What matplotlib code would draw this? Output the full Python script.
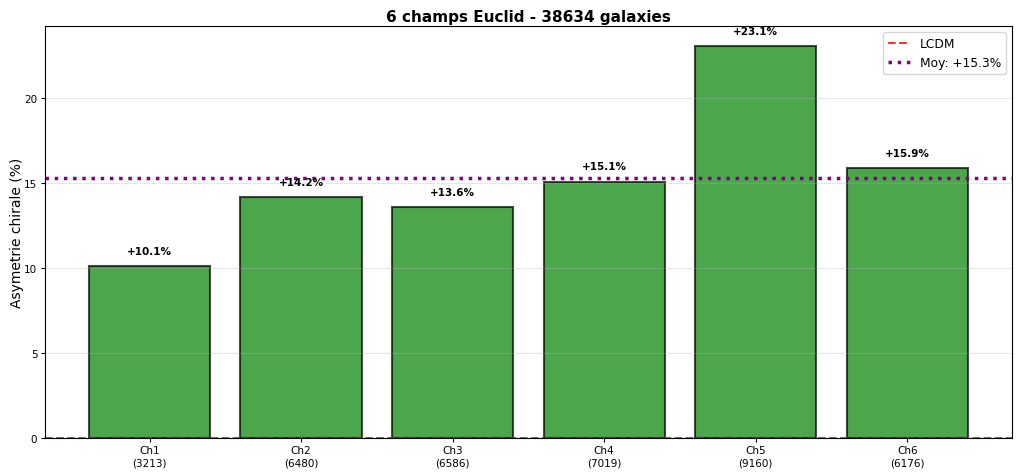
import numpy as np
import matplotlib
matplotlib.use("Agg")
import matplotlib.pyplot as plt

# Asymetrie chirale par champ
champs = ['Ch1', 'Ch2', 'Ch3', 'Ch4', 'Ch5', 'Ch6']
n_gal = [3213, 6480, 6586, 7019, 9160, 6176]
asym = [10.1, 14.2, 13.6, 15.1, 23.1, 15.9]
moyenne = 15.3

fig, ax = plt.subplots(figsize=(10.22, 4.77), dpi=100)

x = np.arange(len(champs))
bars = ax.bar(x, asym, width=0.8, color='green', alpha=0.7,
              edgecolor='black', linewidth=1.5)
ax.axhline(0, color='red', linestyle='--', linewidth=1.5, alpha=0.8, label='LCDM')
ax.axhline(moyenne, color='purple', linestyle=':', linewidth=2.5,
           label=f'Moy: +{moyenne:.1f}%')

for xi, v in zip(x, asym):
    ax.text(xi, v + 0.6, f'+{v:.1f}%', ha='center', va='bottom',
            fontsize=7.5, fontweight='bold')

ax.set_xticks(x)
ax.set_xticklabels([f'{c}\n({n})' for c, n in zip(champs, n_gal)], fontsize=7.5)
ax.tick_params(axis='y', labelsize=7.5, length=3, pad=2.5)
ax.tick_params(axis='x', length=3, pad=2.5)
ax.set_ylabel('Asymetrie chirale (%)', fontsize=10, labelpad=0)
ax.set_title(f'6 champs Euclid - {sum(n_gal)} galaxies', fontsize=11,
             fontweight='bold', pad=4)
ax.set_ylim(0, max(asym) * 1.05)
ax.legend(fontsize=8.8, loc='upper right', handlelength=1.8)
ax.grid(axis='y', alpha=0.3)

plt.subplots_adjust(left=0.044, right=0.99, top=0.943, bottom=0.08)
plt.savefig('out.png', dpi=100)
